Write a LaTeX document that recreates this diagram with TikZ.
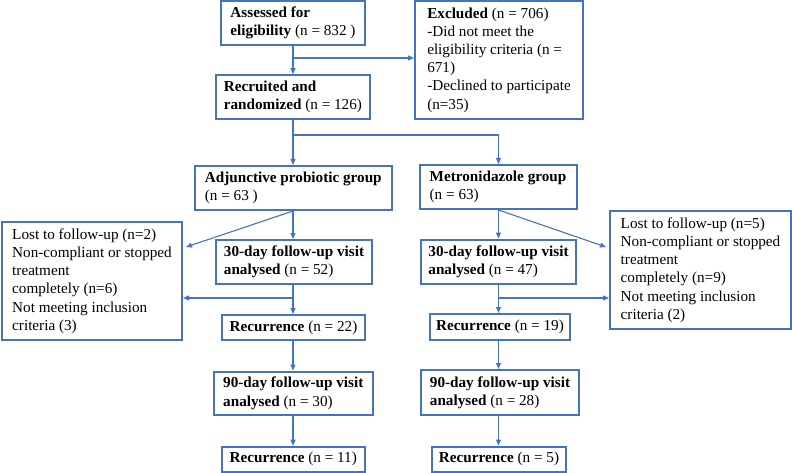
\documentclass[tikz,border=0pt]{standalone}
\usepackage{fontspec}
\setmainfont{Liberation Serif}
\usetikzlibrary{arrows.meta, positioning, calc}
\definecolor{flowblue}{RGB}{68,114,196}

\begin{document}
\begin{tikzpicture}[
    x=1pt, y=-1pt,
    box/.style={draw=flowblue, line width=2pt, rectangle, align=left, inner xsep=4pt, inner ysep=2pt, font=\fontsize{15.2}{18.2}\selectfont, minimum height=#1},
    box/.default=44pt,
    arr/.style={-{Triangle[length=6pt, width=5pt]}, draw=flowblue, line width=1.1pt}
]
\useasboundingbox (0,0) rectangle (792,473);

% --- Enrolment ---
\node[box, minimum width=144pt] (assess)        at (293, 23)     {\textbf{Assessed for}\\\textbf{eligibility} (n = 832 )};
\node[box=118pt, minimum width=168pt] (excl)    at (499, 60)     {\textbf{Excluded} (n = 706)\\-Did not meet the\\eligibility criteria (n =\\671)\\-Declined to participate\\(n=35)};
\node[box, minimum width=154pt] (recruit)       at (292.9, 97.2) {\textbf{Recruited and}\\\textbf{randomized} (n = 126)};

% --- Allocation ---
\node[box, minimum width=197pt] (adjgrp)        at (293.3, 188)  {\textbf{Adjunctive probiotic group}\\(n = 63 )};
\node[box, minimum width=157pt] (metgrp)        at (498, 187)    {\textbf{Metronidazole group}\\(n = 63)};

% --- Adjunctive probiotic arm ---
\node[box=118pt, minimum width=180pt] (lostL)   at (92, 281)     {Lost to follow-up (n=2)\\Non-compliant or stopped\\treatment\\completely (n=6)\\Not meeting inclusion\\criteria (3)};
\node[box, minimum width=156pt] (fuLa)          at (294, 262)    {\textbf{30-day follow-up visit}\\\textbf{analysed} (n = 52)};
\node[box=25pt, minimum width=143pt] (recLa)    at (293.5, 327.5) {\textbf{Recurrence} (n = 22)};
\node[box=43.5pt, minimum width=158.5pt] (fuLb) at (293.3, 393.3) {\textbf{90-day follow-up visit}\\\textbf{analysed} (n = 30)};
\node[box=25pt, minimum width=143pt] (recLb)    at (293.3, 459.2) {\textbf{Recurrence} (n = 11)};

% --- Metronidazole arm ---
\node[box=118pt, minimum width=181pt] (lostR)   at (700.5, 270)  {Lost to follow-up (n=5)\\Non-compliant or stopped\\treatment\\completely (n=9)\\Not meeting inclusion\\criteria (2)};
\node[box, minimum width=155pt] (fuRa)          at (498.5, 261.6) {\textbf{30-day follow-up visit}\\\textbf{analysed} (n = 47)};
\node[box=26pt, minimum width=140pt] (recRa)    at (500, 327)    {\textbf{Recurrence} (n = 19)};
\node[box=45pt, minimum width=158.5pt] (fuRb)   at (500, 392.5)  {\textbf{90-day follow-up visit}\\\textbf{analysed} (n = 28)};
\node[box=25pt, minimum width=134pt] (recRb)    at (499, 459)    {\textbf{Recurrence} (n = 5)};

% Branch points
\coordinate (jexcl)  at (293, 58);
\coordinate (jsplit) at (293, 135);
\coordinate (jL)     at (293, 298);
\coordinate (jR)     at (498.5, 298);

% --- Connectors ---
\draw[arr] (assess) -- (recruit.north -| assess);
\draw[arr] (jexcl) -- (jexcl -| excl.west);
\draw[arr] (recruit.south -| jsplit) -- (adjgrp.north -| jsplit);
\draw[arr] (jsplit) -| (metgrp.north -| jR);

\draw[arr] (adjgrp.south -| jL) -- (fuLa.north -| jL);
\draw[arr] (adjgrp.south -| jL) -- ($(lostL.north east)+(3,26)$);
\draw[arr] (fuLa.south -| jL) -- (recLa.north -| jL);
\draw[arr] (jL) -- (jL -| lostL.east);
\draw[arr] (recLa.south -| jL) -- (fuLb.north -| jL);
\draw[arr] (fuLb.south -| jL) -- (recLb.north -| jL);

\draw[arr] (metgrp.south -| jR) -- (fuRa.north -| jR);
\draw[arr] (metgrp.south -| jR) -- ($(lostR.north west)+(-3,37)$);
\draw[arr] (fuRa.south -| jR) -- (recRa.north -| jR);
\draw[arr] (jR) -- (jR -| lostR.west);
\draw[arr] (recRa.south -| jR) -- (fuRb.north -| jR);
\draw[arr] (fuRb.south -| jR) -- (recRb.north -| jR);

\end{tikzpicture}
\end{document}
